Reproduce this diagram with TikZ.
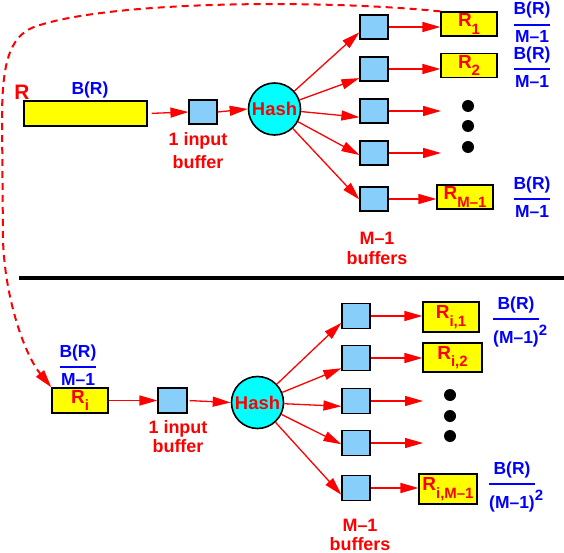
\documentclass[tikz,border=0pt]{standalone}
\usepackage{fontspec}
\usepackage{amsmath}
\setmainfont{Liberation Sans}
\usetikzlibrary{arrows.meta}

\definecolor{bufblue}{RGB}{135,206,250}
\definecolor{hashcyan}{RGB}{0,255,255}
\definecolor{partyellow}{RGB}{255,255,0}
\definecolor{arrred}{RGB}{255,0,0}
\definecolor{sizeblue}{RGB}{0,0,255}
\newcommand{\rsub}[1]{\raisebox{-7.5bp}{\fontsize{15}{15}\selectfont #1}}
\newcommand{\bfrac}[2]{$\genfrac{}{}{1.8bp}{0}{\text{#1}}{\text{#2}}$}
\newcommand{\sqrd}{\rlap{\raisebox{8bp}{\fontsize{15}{15}\selectfont 2}}}

\begin{document}
\begin{tikzpicture}[x=1bp,y=1bp,
  every node/.style={inner sep=0pt, font=\fontsize{18}{23}\selectfont\bfseries},
  buf/.style={draw, fill=bufblue, line width=1.2bp, minimum width=28bp, minimum height=24bp},
  partbox/.style={draw, fill=partyellow, line width=1.2bp, minimum width=56bp, minimum height=24bp,
    text=arrred, font=\fontsize{19}{19}\selectfont\bfseries},
  hashball/.style={circle, draw, fill=hashcyan, line width=1.6bp, minimum size=52bp,
    text=arrred, font=\fontsize{18.5}{18.5}\selectfont\bfseries},
  lbl/.style={text=arrred, align=center},
  sizelbl/.style={text=sizeblue, font=\fontsize{17.5}{20}\selectfont\bfseries},
  arr/.style={arrred, line width=1.3bp, -{Triangle[length=18bp,width=10bp]}},
  blob/.style={circle, fill=black, minimum size=12bp}]
\useasboundingbox (0,0) rectangle (564,-553);

% first pass
\node[lbl, font=\fontsize{21}{21}\selectfont\bfseries] (rname) at (22,-92) {R};
\node[sizelbl] (rsize) at (90,-90) {B(R)};
\node[draw, fill=partyellow, line width=1.2bp, minimum width=123bp, minimum height=25bp] (rel) at (85.5,-113.5) {};
\node[buf] (inbuf) at (203,-112) {};
\node[lbl] (inlbl) at (198,-151) {1 input\\buffer};
\node[hashball] (hash) at (274.5,-109) {Hash};
\foreach \i/\y in {1/27,2/69,3/111,4/153,5/199}
  \node[buf] (b\i) at (374,-\y) {};
\node[partbox] (r1) at (469,-24) {R\rsub{1}};
\node[partbox] (r2) at (469,-65.5) {R\rsub{2}};
\node[partbox] (rm) at (465,-197) {R\rsub{M--1}};
\coordinate (e3) at (441,-111);
\coordinate (e4) at (441,-153);
\foreach \y in {106,126,147}
  \node[blob] (d\y) at (468,-\y) {};
\node[sizelbl] (f1) at (532,-22.5) {\bfrac{B(R)}{M--1}};
\node[sizelbl] (f2) at (532,-67) {\bfrac{B(R)}{M--1}};
\node[sizelbl] (fm) at (532,-197) {\bfrac{B(R)}{M--1}};
\node[lbl, font=\fontsize{18}{20}\selectfont\bfseries] (mlbl) at (377,-248) {M--1\\buffers};

\draw[arr, shorten <=4bp] (rel.east) -- (inbuf.west);
\draw[arr] (inbuf.east) -- (hash.west);
\foreach \i/\a in {1/200,2/212,3/203,4/188,5/182}
  \draw[arr] (hash) -- (b\i.\a);
\draw[arr] (b1.east) -- (b1.east -| r1.west);
\draw[arr] (b2.east) -- (b2.east -| r2.west);
\draw[arr] (b3) -- (e3);
\draw[arr] (b4) -- (e4);
\draw[arr] (b5.east) -- (b5.east -| rm.west);

\draw[line width=4.5bp] (19,-278) -- (564,-278);

% second pass
\node[sizelbl] (isize) at (78,-365) {\bfrac{B(R)}{M--1}};
\node[partbox, minimum height=25bp] (ri) at (80,-400.5) {R\rsub{i}};
\node[buf, minimum width=29bp, minimum height=25bp] (inbuf2) at (172.5,-400.5) {};
\node[lbl, font=\fontsize{18}{19}\selectfont\bfseries] (inlbl2) at (178,-437) {1 input\\buffer};
\node[hashball] (hash2) at (257.5,-402.5) {Hash};
\foreach \i/\y in {1/316,2/358,3/401,4/443,5/488}
  \node[buf, minimum height=25bp] (c\i) at (356,-\y) {};
\node[partbox, minimum height=30bp] (ri1) at (451,-317) {R\rsub{i,1}};
\node[partbox, minimum width=59bp, minimum height=29bp] (ri2) at (452.5,-357.5) {R\rsub{i,2}};
\node[partbox, minimum width=58bp, minimum height=30bp] (rim) at (448,-489) {R\rsub{i,M--1}};
\coordinate (g3) at (423,-401);
\coordinate (g4) at (423,-443);
\foreach \y in {395,416,436}
  \node[blob] (k\y) at (450,-\y) {};
\node[sizelbl] (h1) at (516,-322) {\bfrac{B(R)}{(M--1)\sqrd}};
\node[sizelbl] (hm) at (512,-487) {\bfrac{B(R)}{(M--1)\sqrd}};
\node[lbl, font=\fontsize{18}{19}\selectfont\bfseries] (mlbl2) at (360,-535) {M--1\\buffers};

\draw[arr] (ri.east) -- (inbuf2.west);
\draw[arr, shorten <=2bp] (inbuf2.east) -- (hash2.west);
\foreach \i/\a in {1/205,2/215,3/200,4/185,5/205}
  \draw[arr] (hash2) -- (c\i.\a);
\draw[arr] (c1.east) -- (c1.east -| ri1.west);
\draw[arr] (c2.east) -- (c2.east -| ri2.west);
\draw[arr] (c3) -- (g3);
\draw[arr] (c4) -- (g4);
\draw[arr] (c5.east) -- (c5.east -| rim.west);

% partition R_1 goes back in as input
\draw[arrred, line width=2bp, dash pattern=on 7bp off 5bp, -{Triangle[length=18bp,width=10bp]}]
  (r1.north west) .. controls (330,0) and (120,0) .. (40,-25)
  .. controls (10,-33) and (2,-60) .. (2,-120) -- (3,-240)
  .. controls (5,-300) and (25,-355) .. (ri.north west);
\end{tikzpicture}
\end{document}
